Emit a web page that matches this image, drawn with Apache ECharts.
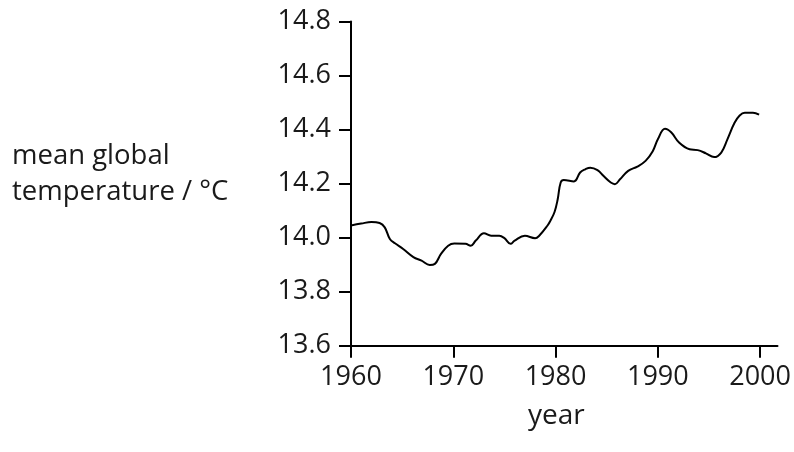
<!DOCTYPE html>
<html>
<head>
<meta charset="utf-8">
<script src="https://cdn.jsdelivr.net/npm/echarts@6/dist/echarts.min.js"></script>
<style>
html,body{margin:0;padding:0;background:#fff;}
#chart{width:794px;height:452px;}
</style>
</head>
<body>
<div id="chart"></div>
<script>
const years = [1960.0,1961.0,1962.0,1962.8,1963.3,1963.8,1964.3,1965.1,1966.1,1966.9,1967.7,1968.2,1968.8,1969.5,1970.1,1971.2,1971.7,1972.2,1973.0,1973.7,1974.5,1975.0,1975.6,1976.0,1977.0,1978.0,1978.4,1979.2,1979.5,1979.9,1980.2,1980.5,1980.8,1981.8,1982.4,1982.9,1983.4,1984.1,1984.7,1985.4,1985.8,1986.3,1987.1,1988.0,1988.8,1989.5,1990.0,1990.7,1991.3,1992.1,1993.1,1993.9,1994.7,1995.5,1996.2,1996.8,1997.5,1998.0,1998.5,1999.3,1999.9];
const temps = [14.045,14.052,14.058,14.054,14.038,13.995,13.979,13.958,13.928,13.915,13.899,13.903,13.940,13.970,13.978,13.977,13.970,13.989,14.016,14.007,14.007,13.998,13.977,13.989,14.007,13.998,14.007,14.044,14.063,14.095,14.140,14.204,14.213,14.208,14.241,14.253,14.259,14.250,14.228,14.204,14.198,14.216,14.247,14.263,14.284,14.320,14.364,14.403,14.390,14.351,14.327,14.324,14.312,14.298,14.315,14.364,14.425,14.452,14.462,14.462,14.455];
const xTicks = [1960,1970,1980,1990,2000];
const yTicks = [13.6,13.8,14.0,14.2,14.4,14.6,14.8];
const yTitle = 'mean global\ntemperature / °C';
const xTitle = 'year';

const FONT = 'Open Sans';
const chart = echarts.init(document.getElementById('chart'), null, {renderer:'canvas'});
chart.setOption({
  animation:false,
  backgroundColor:'#fff',
  grid:{left:351, right:14, top:21.5, bottom:106.3, containLabel:false},
  title:[
    {text:yTitle, left:7, top:133, textStyle:{fontFamily:FONT, fontSize:27.5, fontWeight:'normal', color:'#1a1a1a', lineHeight:36}},
    {text:xTitle, left:523, top:397, textStyle:{fontFamily:FONT, fontSize:28, fontWeight:'normal', color:'#1a1a1a'}}
  ],
  xAxis:{
    type:'value', min:1960, max:2001.7,
    axisLine:{show:true, onZero:false, lineStyle:{color:'#000', width:2}},
    axisTick:{show:true, length:12, inside:false, customValues:xTicks, lineStyle:{color:'#000', width:2}},
    axisLabel:{customValues:xTicks, margin:18, fontFamily:FONT, fontSize:27, color:'#1a1a1a', formatter:v=>String(Math.round(v))},
    splitLine:{show:false}
  },
  yAxis:{
    type:'value', min:13.6, max:14.8,
    axisLine:{show:true, onZero:false, lineStyle:{color:'#000', width:2}},
    axisTick:{show:true, length:12, inside:false, customValues:yTicks, lineStyle:{color:'#000', width:2}},
    axisLabel:{customValues:yTicks, margin:20, fontFamily:FONT, fontSize:27, color:'#1a1a1a', formatter:v=>v.toFixed(1)},
    splitLine:{show:false}
  },
  series:[{
    type:'line',
    data:years.map((y,i)=>[y,temps[i]]),
    smooth:0.4,
    symbol:'none',
    lineStyle:{color:'#000', width:2}
  }]
});
</script>
</body>
</html>
